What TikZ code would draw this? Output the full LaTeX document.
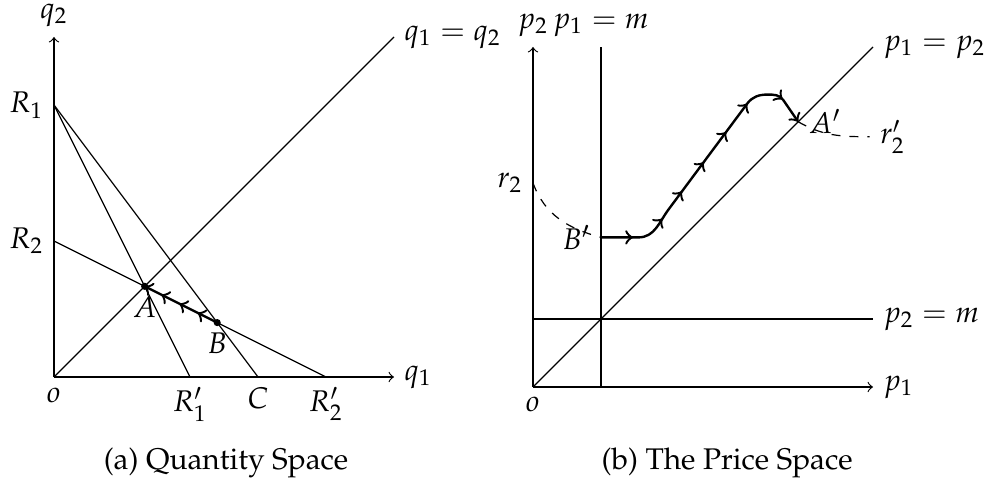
\documentclass[tikz,border=0pt]{standalone}
\usepackage[T1]{fontenc}
\usepackage{mathpazo}
\usetikzlibrary{decorations.markings}
\tikzset{
  axis/.style={->},
  dot/.style={circle, fill, inner sep=0pt, minimum size=2.4pt},
  flowA/.style={thick, postaction={decorate}, decoration={markings,
      mark=at position 0.27 with {\arrow{>}},
      mark=at position 0.52 with {\arrow{>}},
      mark=at position 0.77 with {\arrow{>}},
      mark=at position 1 with {\arrow{>}}}},
  flowB/.style={thick, ->},
  tipmark/.style={thick, ->},
  dashcurve/.style={dashed},
}
\begin{document}
\begin{tikzpicture}[x=0.8cm,y=0.8cm]
\useasboundingbox (-0.794,-1.662) rectangle (13.838,5.544);
% ---------- (a) Quantity space ----------
\coordinate (O) at (0,0);
\coordinate (X1) at (5,0);
\coordinate (Y1) at (0,5);
\coordinate (D1) at (5,5);
\coordinate (R1) at (0,4);
\coordinate (R2) at (0,2);
\coordinate (R1p) at (2,0);
\coordinate (C) at (3,0);
\coordinate (R2p) at (4,0);
\coordinate (A) at (4/3,4/3);
\coordinate (B) at (2.4,0.8);
\draw[axis] (O) -- (X1);
\draw[axis] (O) -- (Y1);
\draw (O) -- (D1);
\draw (R1) -- (R1p);
\draw (R1) -- (C);
\draw (R2) -- (R2p);
\draw[flowA] (B) -- (A);
\node[dot] (dA) at (A) {};
\node[dot] (dB) at (B) {};
\node[above] (lq2) at (Y1) {$q_2$};
\node[right] (lq1) at (X1) {$q_1$};
\node[right] (ldiag) at (D1) {$q_1 = q_2$};
\node[left] (lR1) at (R1) {$R_1$};
\node[left] (lR2) at (R2) {$R_2$};
\node[below] (lo) at (O) {$o$};
\node[below] (lR1p) at (R1p) {$R'_1$};
\node[below] (lC) at (C) {$C$};
\node[below] (lR2p) at (R2p) {$R'_2$};
\node[below] (lA) at (A) {$A$};
\node[below] (lB) at (B) {$B$};
\node (capA) at (2.53,-1.27) {(a) Quantity Space};
% ---------- (b) Price space ----------
\begin{scope}[shift={(7.044,-0.147)}]
\coordinate (P) at (0,0);
\coordinate (PX) at (5,0);
\coordinate (PY) at (0,5);
\coordinate (PD) at (5,5);
\coordinate (M1) at (1,0);
\coordinate (M1t) at (1,5);
\coordinate (M2) at (0,1);
\coordinate (M2r) at (5,1);
\coordinate (Bp) at (1,2.2);
\coordinate (Ap) at (3.9,3.9);
\coordinate (r2) at (0,3);
\coordinate (r2p) at (4.95,3.68);
\draw[axis] (P) -- (PX);
\draw[axis] (P) -- (PY);
\draw (P) -- (PD);
\draw (M1) -- (M1t);
\draw (M2) -- (M2r);
\draw[dashcurve] (r2) to[out=-70,in=165] (Bp);
\draw[dashcurve] (Ap) to[out=-30,in=180] (r2p);
\draw[flowB] (Bp) -- (1.55,2.2) to[out=0,in=233] (2.0,2.62) -- (3.15,4.167)
   to[out=53,in=180] (3.45,4.3) to[out=0,in=125] (3.68,4.22) -- (Ap);
\foreach \px/\py/\ang in {1.47/2.2/0, 1.90/2.475/50, 2.19/2.8756/53.4,
    2.51/3.306/53.4, 2.84/3.75/53.4, 3.15/4.167/53.4, 3.67/4.23/-38}
  \draw[tipmark] (\px,\py) ++(\ang+180:0.06) -- (\px,\py);
\node[above, inner xsep=1pt] (lp2) at (PY) {$p_2$};
\node[above, inner xsep=1pt] (lp1m) at (M1t) {$p_1 = m$};
\node[right] (lp1p2) at (PD) {$p_1 = p_2$};
\node[right] (lp2m) at (M2r) {$p_2 = m$};
\node[right] (lp1) at (PX) {$p_1$};
\node[below] (lo2) at (P) {$o$};
\node[left] (lr2) at (r2) {$r_2$};
\node[right] (lr2p) at (r2p) {$r'_2$};
\node[left] (lBp) at (Bp) {$B'$};
\node[right] (lAp) at (Ap) {$A'$};
\end{scope}
\node (capB) at (9.90,-1.27) {(b) The Price Space};
\end{tikzpicture}
\end{document}
